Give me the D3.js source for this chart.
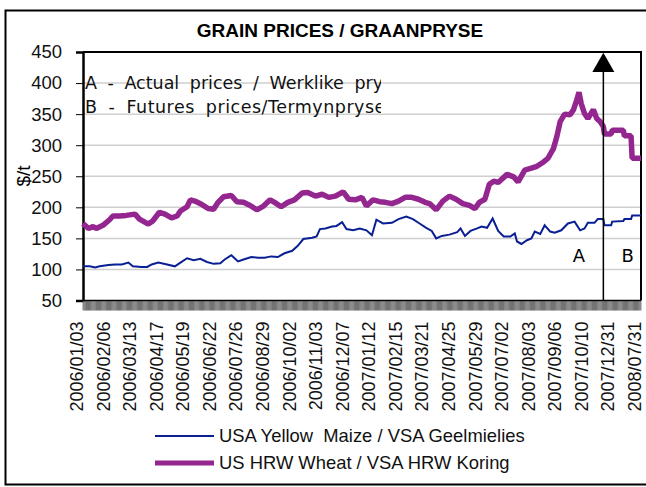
<!DOCTYPE html>
<html>
<head>
<meta charset="utf-8">
<script src="https://cdn.jsdelivr.net/npm/d3@7"></script>
<style>
  body { margin: 0; background: #fff; }
  svg { display: block; }
</style>
</head>
<body>
<div id="chart"></div>
<script>
// x axis: one category per trading day, a label every 24 categories
const tickLabels = ["2006/01/03", "2006/02/06", "2006/03/13", "2006/04/17", "2006/05/19",
  "2006/06/22", "2006/07/26", "2006/08/29", "2006/10/02", "2006/11/03", "2006/12/07",
  "2007/01/12", "2007/02/15", "2007/03/21", "2007/04/25", "2007/05/29", "2007/07/02",
  "2007/08/03", "2007/09/06", "2007/10/10", "2007/12/31", "2008/07/31"];
const labelEvery = 24;
const lastIndex = 504;
const actualEnds = 470;   // A = actual prices up to here, B = futures after

const yTicks = [50, 100, 150, 200, 250, 300, 350, 400, 450];

// [category index, $/t]
const maize = [[0,105],[6,105],[11,103],[15,105],[23,107],[29,108],[35,108],[41,111],[45,105],
  [53,104],[58,104],[62,108],[68,111],[76,108],[83,105],[88,111],[94,118],[100,115],[106,117],
  [112,112],[118,109],[124,110],[128,116],[134,123],[140,113],[145,116],[152,120],[158,119],
  [164,119],[170,121],[176,120],[182,126],[189,130],[194,138],[199,149],[207,151],[211,153],
  [214,165],[219,166],[225,169],[229,170],[234,176],[238,165],[244,163],[250,166],[256,163],
  [261,155],[265,180],[271,174],[279,175],[285,181],[292,185],[298,181],[304,174],[310,167],
  [315,162],[319,150],[324,154],[331,156],[338,160],[341,166],[345,154],[350,162],[356,166],
  [360,169],[365,167],[370,182],[375,162],[380,153],[386,153],[390,158],[392,145],[396,141],
  [401,147],[405,150],[408,161],[413,157],[417,171],[422,161],[426,159],[432,163],[438,174],
  [444,177],[449,163],[453,166],[456,175],[462,175],[465,181],[470,181],[471,171],[477,171],
  [478,177],[488,178],[489,181],[495,181],[496,187],[504,187]];

const wheat = [[0,174],[5,166],[9,169],[12,166],[18,171],[24,180],[27,186],[33,186],[39,187],
  [47,189],[51,181],[59,173],[63,178],[69,192],[74,189],[80,183],[85,186],[88,194],[94,201],
  [97,212],[101,210],[107,205],[113,198],[118,197],[122,208],[127,217],[134,219],[139,209],
  [145,208],[151,203],[157,196],[163,202],[169,212],[173,208],[179,201],[185,208],[191,212],
  [198,223],[203,224],[210,218],[216,221],[222,216],[228,218],[235,225],[240,213],[246,212],
  [252,216],[256,202],[262,212],[268,209],[273,208],[279,206],[285,210],[291,216],[297,216],
  [303,213],[309,208],[313,206],[319,196],[325,210],[331,218],[337,213],[343,206],[349,203],
  [354,198],[358,208],[363,213],[367,237],[371,242],[375,240],[383,253],[389,249],[393,241],
  [399,260],[405,263],[410,266],[416,273],[420,279],[425,295],[428,314],[431,338],[435,350],
  [440,349],[443,357],[446,373],[448,385],[450,367],[453,351],[456,343],[461,357],[464,343],
  [467,338],[470,330],[471,318],[477,318],[478,324],[488,324],[489,315],[495,315],[496,279],
  [504,279]];

const width = 646, height = 487;
const margin = {top: 52, right: 5, bottom: 186.5, left: 83};
const plotW = width - margin.left - margin.right,
      plotH = height - margin.top - margin.bottom;

const svg = d3.select("#chart").append("svg")
  .attr("width", width)
  .attr("height", height)
  .style("font-family", "'Liberation Sans', Arial, sans-serif");

// outer frame
svg.append("rect")
  .attr("x", 5.5).attr("y", 10.5)
  .attr("width", 700).attr("height", 474)
  .attr("fill", "none").attr("stroke", "#000").attr("stroke-width", 2);

svg.append("text")
  .attr("x", 340).attr("y", 36.5)
  .attr("text-anchor", "middle")
  .attr("font-size", "19px").attr("font-weight", "bold")
  .text("GRAIN PRICES / GRAANPRYSE");

const g = svg.append("g")
  .attr("transform", "translate(" + margin.left + "," + margin.top + ")");

const x = d3.scaleLinear().domain([0, lastIndex]).range([0, plotW]);
const y = d3.scaleLinear().domain([50, 450]).range([plotH, 0]);

// gridlines
g.append("g")
  .selectAll("line")
  .data(yTicks.filter(function(d) { return d > 50 && d < 450; }))
  .enter().append("line")
  .attr("x1", 0).attr("x2", plotW)
  .attr("y1", function(d) { return y(d); })
  .attr("y2", function(d) { return y(d); })
  .attr("stroke", "#cfcfcf").attr("stroke-width", 1.5);

// text box (clipped like the original)
svg.append("clipPath").attr("id", "boxclip")
  .append("rect").attr("x", 83).attr("y", 62).attr("width", 298).attr("height", 60);
const note = svg.append("g").attr("clip-path", "url(#boxclip)")
  .style("font-family", "'DejaVu Sans', Verdana, sans-serif")
  .attr("font-size", "17.5px").attr("fill", "#111")
  .style("word-spacing", "5px");
note.append("text").attr("x", 85).attr("y", 89).text("A - Actual prices / Werklike pryse");
note.append("text").attr("x", 85).attr("y", 113)
  .style("letter-spacing", "0.5px")
  .text("B - Futures prices/Termynpryse");

// plot border top + right
g.append("path")
  .attr("d", "M0,0H" + plotW + "V" + plotH)
  .attr("fill", "none").attr("stroke", "#000").attr("stroke-width", 2);

// y axis
const yAxis = g.append("g")
  .call(d3.axisLeft(y).tickValues(yTicks).tickSize(7).tickPadding(14));
yAxis.attr("font-family", null);
yAxis.select(".domain").attr("stroke-width", 2.5);
yAxis.selectAll("text").attr("font-size", "18.5px").attr("fill", "#111");

svg.append("text")
  .attr("transform", "translate(30,176) rotate(-90)")
  .attr("text-anchor", "middle")
  .attr("font-size", "19px")
  .text("$/t");

// x axis: a tick for every category (dense band under the axis)
const cats = d3.range(0, lastIndex + 1);
const band = g.append("g")
  .attr("transform", "translate(0," + plotH + ")");
band.append("rect")
  .attr("x", 0).attr("y", 1)
  .attr("width", plotW).attr("height", 9)
  .attr("fill", "#d4d4d4");
band.selectAll("rect.tk")
  .data(cats)
  .enter().append("rect")
  .attr("class", "tk")
  .attr("x", function(d) { return x(d) - 0.3; })
  .attr("y", 0)
  .attr("width", 0.6)
  .attr("height", 10)
  .attr("fill", "#333");
g.append("line")
  .attr("x1", 0).attr("x2", plotW)
  .attr("y1", plotH).attr("y2", plotH)
  .attr("stroke", "#000").attr("stroke-width", 1.5);

g.append("g")
  .selectAll("text")
  .data(tickLabels)
  .enter().append("text")
  .attr("transform", function(d, i) {
    return "translate(" + x(i * labelEvery) + "," + (plotH + 21) + ") rotate(-90)";
  })
  .attr("text-anchor", "end")
  .attr("font-size", "18px")
  .attr("fill", "#111")
  .text(function(d) { return d; });

// series
const line = d3.line()
  .x(function(d) { return x(d[0]); })
  .y(function(d) { return y(d[1]); });

g.append("path").datum(maize)
  .attr("d", line)
  .attr("fill", "none").attr("stroke", "#0a1f94").attr("stroke-width", 2);

g.append("path").datum(wheat)
  .attr("d", line)
  .attr("fill", "none").attr("stroke", "#93278f").attr("stroke-width", 5.5)
  .attr("stroke-linejoin", "bevel");

// arrow splitting actual and futures
g.append("line")
  .attr("x1", x(actualEnds)).attr("x2", x(actualEnds))
  .attr("y1", plotH).attr("y2", y(425))
  .attr("stroke", "#000").attr("stroke-width", 1.5);
g.append("path")
  .attr("d", d3.symbol().type(d3.symbolTriangle).size(210))
  .attr("transform", "translate(" + x(actualEnds) + "," + (y(425) - 2) + ")")
  .attr("fill", "#000");

g.append("g")
  .style("font-family", "'DejaVu Sans', Verdana, sans-serif")
  .attr("font-size", "18px").attr("text-anchor", "middle")
  .selectAll("text")
  .data([["A", 448], ["B", 492]])
  .enter().append("text")
  .attr("x", function(d) { return x(d[1]); })
  .attr("y", y(112))
  .text(function(d) { return d[0]; });

// legend
const legend = svg.append("g").attr("transform", "translate(155,0)");
const legendItems = [
  {name: "USA Yellow  Maize / VSA Geelmielies", color: "#0a1f94", w: 2, y: 436},
  {name: "US HRW Wheat / VSA HRW Koring", color: "#93278f", w: 5, y: 463}
];
legendItems.forEach(function(d) {
  legend.append("line")
    .attr("x1", 0).attr("x2", 59)
    .attr("y1", d.y).attr("y2", d.y)
    .attr("stroke", d.color).attr("stroke-width", d.w);
  legend.append("text")
    .attr("x", 64).attr("y", d.y + 6)
    .attr("font-size", "18.4px").attr("fill", "#111")
    .style("white-space", "pre")
    .text(d.name);
});
</script>
</body>
</html>
